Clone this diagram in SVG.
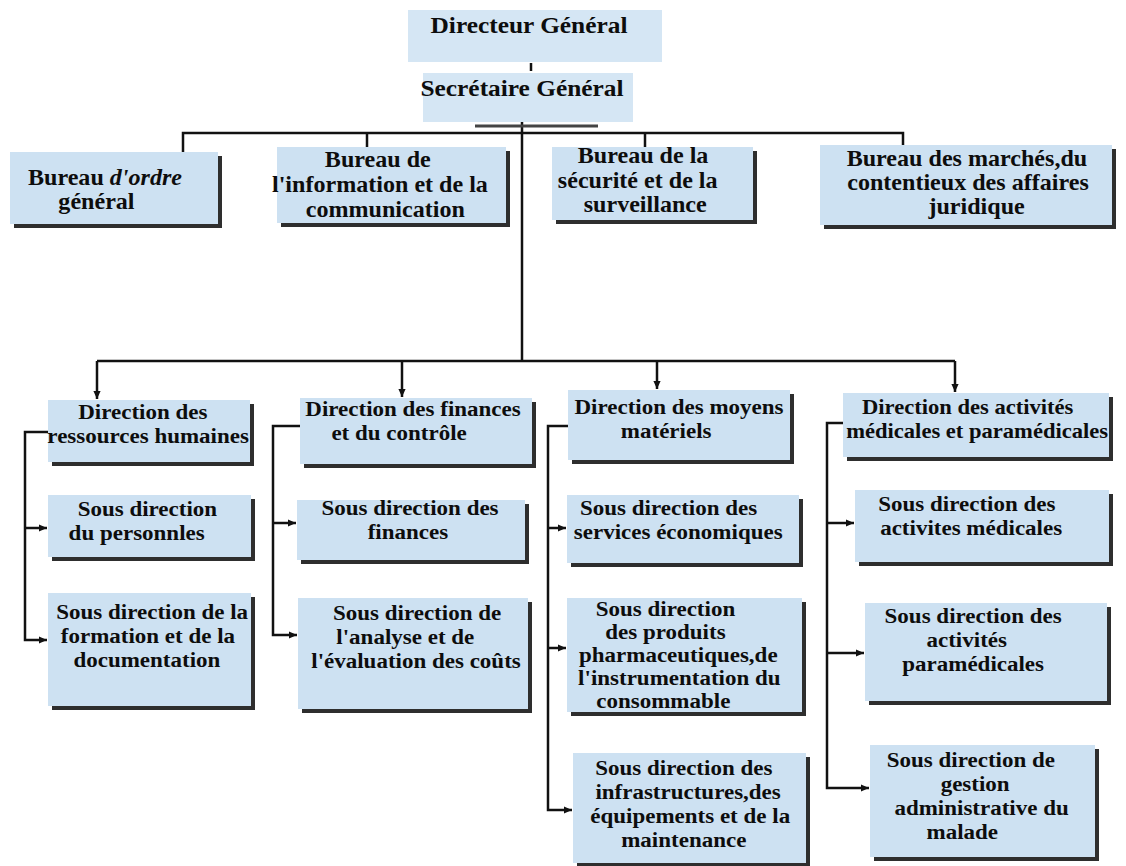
<svg xmlns="http://www.w3.org/2000/svg" width="1126" height="866" viewBox="0 0 1126 866">
<style>
.bx{fill:#cde1f2}
.top{fill:#d5e6f4}
.sh{fill:#2e2e2e}
.t{font-family:"Liberation Serif","Times New Roman",serif;font-weight:bold;font-size:21.5px;fill:#0d0d0d;text-anchor:middle}
.t21{font-size:22.5px}
.t22{font-size:23.5px}
.c{fill:none;stroke:#111;stroke-width:2.5}
.ca{fill:none;stroke:#111;stroke-width:2.5;marker-end:url(#ah)}
</style>
<defs>
<marker id="ah" viewBox="0 0 10 10" refX="10" refY="5" markerWidth="9" markerHeight="8" markerUnits="userSpaceOnUse" orient="auto"><path d="M0,0.5 L10,5 L0,9.5 z" fill="#111"/></marker>
</defs>
<rect width="1126" height="866" fill="#ffffff"/>

<g id="connectors">
<path class="c" d="M522,122 V361"/>
<path d="M475,126 H598" fill="none" stroke="#444" stroke-width="3"/>
<path class="c" d="M531,63 V71"/>
<path class="c" d="M183,152 V133 H903 V145"/>
<path class="c" d="M367,133 V147"/>
<path class="c" d="M645,133 V147"/>
<path class="c" d="M97,361 H955"/>
<path class="ca" d="M97,361 V399"/>
<path class="ca" d="M402,361 V397"/>
<path class="ca" d="M657,361 V389"/>
<path class="ca" d="M955,361 V392"/>
<path class="ca" d="M48,432 H25 V640 H47"/>
<path class="ca" d="M25,528 H47"/>
<path class="ca" d="M300,426 H273 V635 H297"/>
<path class="ca" d="M273,523 H296"/>
<path class="ca" d="M568,426 H548 V810 H572"/>
<path class="ca" d="M548,528 H566"/>
<path class="ca" d="M548,648 H566"/>
<path class="ca" d="M843,423 H827 V788 H869"/>
<path class="ca" d="M827,523 H854"/>
<path class="ca" d="M827,653 H864"/>
</g>

<g id="dg">
<rect class="top" x="408" y="10" width="254" height="52"/>
<text class="t t22" transform="translate(529,0) scale(1.08,1)"><tspan x="0" y="33">Directeur Général</tspan></text>
</g>
<g id="sg">
<rect class="top" x="423" y="73" width="210" height="49"/>
<text class="t t22" transform="translate(522,0) scale(1.08,1)"><tspan x="0" y="96">Secrétaire Général</tspan></text>
</g>

<g id="b-ordre">
<rect class="sh" x="14" y="156" width="208" height="72"/>
<rect class="bx" x="10" y="152" width="208" height="72"/>
<text class="t t21" transform="translate(105,0) scale(1.07,1)"><tspan x="0" y="185">Bureau <tspan font-style="italic">d'ordre</tspan></tspan><tspan x="-8" y="209">général</tspan></text>
</g>
<g id="b-info">
<rect class="sh" x="281" y="151" width="229" height="76"/>
<rect class="bx" x="277" y="147" width="229" height="76"/>
<text class="t t21" transform="translate(381,0) scale(1.07,1)"><tspan x="-3" y="167">Bureau de</tspan><tspan x="-1" y="192">l'information et de la</tspan><tspan x="4" y="217">communication</tspan></text>
</g>
<g id="b-secu">
<rect class="sh" x="556" y="151" width="201" height="73"/>
<rect class="bx" x="552" y="147" width="201" height="73"/>
<text class="t t21" transform="translate(642,0) scale(1.07,1)"><tspan x="1" y="163">Bureau de la</tspan><tspan x="-4" y="188">sécurité et de la</tspan><tspan x="3" y="212">surveillance</tspan></text>
</g>
<g id="b-marches">
<rect class="sh" x="824" y="149" width="292" height="80"/>
<rect class="bx" x="820" y="145" width="292" height="80"/>
<text class="t t21" transform="translate(968,0) scale(1.07,1)"><tspan x="-1" y="166">Bureau des marchés,du</tspan><tspan x="0" y="190">contentieux des affaires</tspan><tspan x="8" y="214">juridique</tspan></text>
</g>

<g id="d-rh">
<rect class="sh" x="52" y="404" width="202" height="62"/>
<rect class="bx" x="48" y="400" width="202" height="62"/>
<text class="t" transform="translate(146,0) scale(1.07,1)"><tspan x="-3" y="419">Direction des</tspan><tspan x="2" y="443">ressources humaines</tspan></text>
</g>
<g id="sd-perso">
<rect class="sh" x="52" y="499" width="203" height="62"/>
<rect class="bx" x="48" y="495" width="203" height="62"/>
<text class="t" transform="translate(142,0) scale(1.07,1)"><tspan x="5" y="516">Sous direction</tspan><tspan x="-5" y="540">du personnles</tspan></text>
</g>
<g id="sd-formation">
<rect class="sh" x="52" y="597" width="203" height="113"/>
<rect class="bx" x="48" y="593" width="203" height="113"/>
<text class="t" transform="translate(149,0) scale(1.07,1)"><tspan x="3" y="619">Sous direction de la</tspan><tspan x="-1" y="643">formation et de la</tspan><tspan x="-2" y="667">documentation</tspan></text>
</g>

<g id="d-fin">
<rect class="sh" x="304" y="402" width="232" height="66"/>
<rect class="bx" x="300" y="398" width="232" height="66"/>
<text class="t" transform="translate(413,0) scale(1.07,1)"><tspan x="0" y="416">Direction des finances</tspan><tspan x="-13" y="440">et du contrôle</tspan></text>
</g>
<g id="sd-fin">
<rect class="sh" x="301" y="504" width="228" height="60"/>
<rect class="bx" x="297" y="500" width="228" height="60"/>
<text class="t" transform="translate(410,0) scale(1.07,1)"><tspan x="0" y="515">Sous direction des</tspan><tspan x="-2" y="539">finances</tspan></text>
</g>
<g id="sd-analyse">
<rect class="sh" x="302" y="602" width="230" height="111"/>
<rect class="bx" x="298" y="598" width="230" height="111"/>
<text class="t" transform="translate(416,0) scale(1.07,1)"><tspan x="1" y="620">Sous direction de</tspan><tspan x="-10" y="644">l'analyse et de</tspan><tspan x="0" y="668">l'évaluation des coûts</tspan></text>
</g>

<g id="d-moyens">
<rect class="sh" x="572" y="394" width="222" height="70"/>
<rect class="bx" x="568" y="390" width="222" height="70"/>
<text class="t" transform="translate(679,0) scale(1.07,1)"><tspan x="0" y="414">Direction des moyens</tspan><tspan x="-12" y="438">matériels</tspan></text>
</g>
<g id="sd-eco">
<rect class="sh" x="571" y="499" width="232" height="68"/>
<rect class="bx" x="567" y="495" width="232" height="68"/>
<text class="t" transform="translate(675,0) scale(1.07,1)"><tspan x="-6" y="515">Sous direction des</tspan><tspan x="3" y="539">services économiques</tspan></text>
</g>
<g id="sd-pharma">
<rect class="sh" x="571" y="602" width="235" height="114"/>
<rect class="bx" x="567" y="598" width="235" height="114"/>
<text class="t" transform="translate(674,0) scale(1.07,1)"><tspan x="-8" y="616">Sous direction</tspan><tspan x="-8" y="639">des produits</tspan><tspan x="4" y="662">pharmaceutiques,de</tspan><tspan x="5" y="685">l'instrumentation du</tspan><tspan x="-10" y="708">consommable</tspan></text>
</g>
<g id="sd-infra">
<rect class="sh" x="577" y="757" width="233" height="110"/>
<rect class="bx" x="573" y="753" width="233" height="110"/>
<text class="t" transform="translate(687,0) scale(1.07,1)"><tspan x="-3" y="775">Sous direction des</tspan><tspan x="1" y="799">infrastructures,des</tspan><tspan x="3" y="823">équipements et de la</tspan><tspan x="-3" y="847">maintenance</tspan></text>
</g>

<g id="d-med">
<rect class="sh" x="847" y="397" width="266" height="64"/>
<rect class="bx" x="843" y="393" width="266" height="64"/>
<text class="t" transform="translate(974,0) scale(1.05,1)"><tspan x="-6" y="414">Direction des activités</tspan><tspan x="3" y="438">médicales et paramédicales</tspan></text>
</g>
<g id="sd-med">
<rect class="sh" x="859" y="494" width="254" height="72"/>
<rect class="bx" x="855" y="490" width="254" height="72"/>
<text class="t" transform="translate(969,0) scale(1.07,1)"><tspan x="-2" y="511">Sous direction des</tspan><tspan x="2" y="535">activites médicales</tspan></text>
</g>
<g id="sd-para">
<rect class="sh" x="869" y="607" width="242" height="98"/>
<rect class="bx" x="865" y="603" width="242" height="98"/>
<text class="t" transform="translate(971,0) scale(1.07,1)"><tspan x="2" y="623">Sous direction des</tspan><tspan x="-4" y="647">activités</tspan><tspan x="2" y="671">paramédicales</tspan></text>
</g>
<g id="sd-gestion">
<rect class="sh" x="874" y="749" width="225" height="112"/>
<rect class="bx" x="870" y="745" width="225" height="112"/>
<text class="t" transform="translate(973,0) scale(1.07,1)"><tspan x="-2" y="767">Sous direction de</tspan><tspan x="2" y="791">gestion</tspan><tspan x="8" y="815">administrative du</tspan><tspan x="-10" y="839">malade</tspan></text>
</g>
</svg>
